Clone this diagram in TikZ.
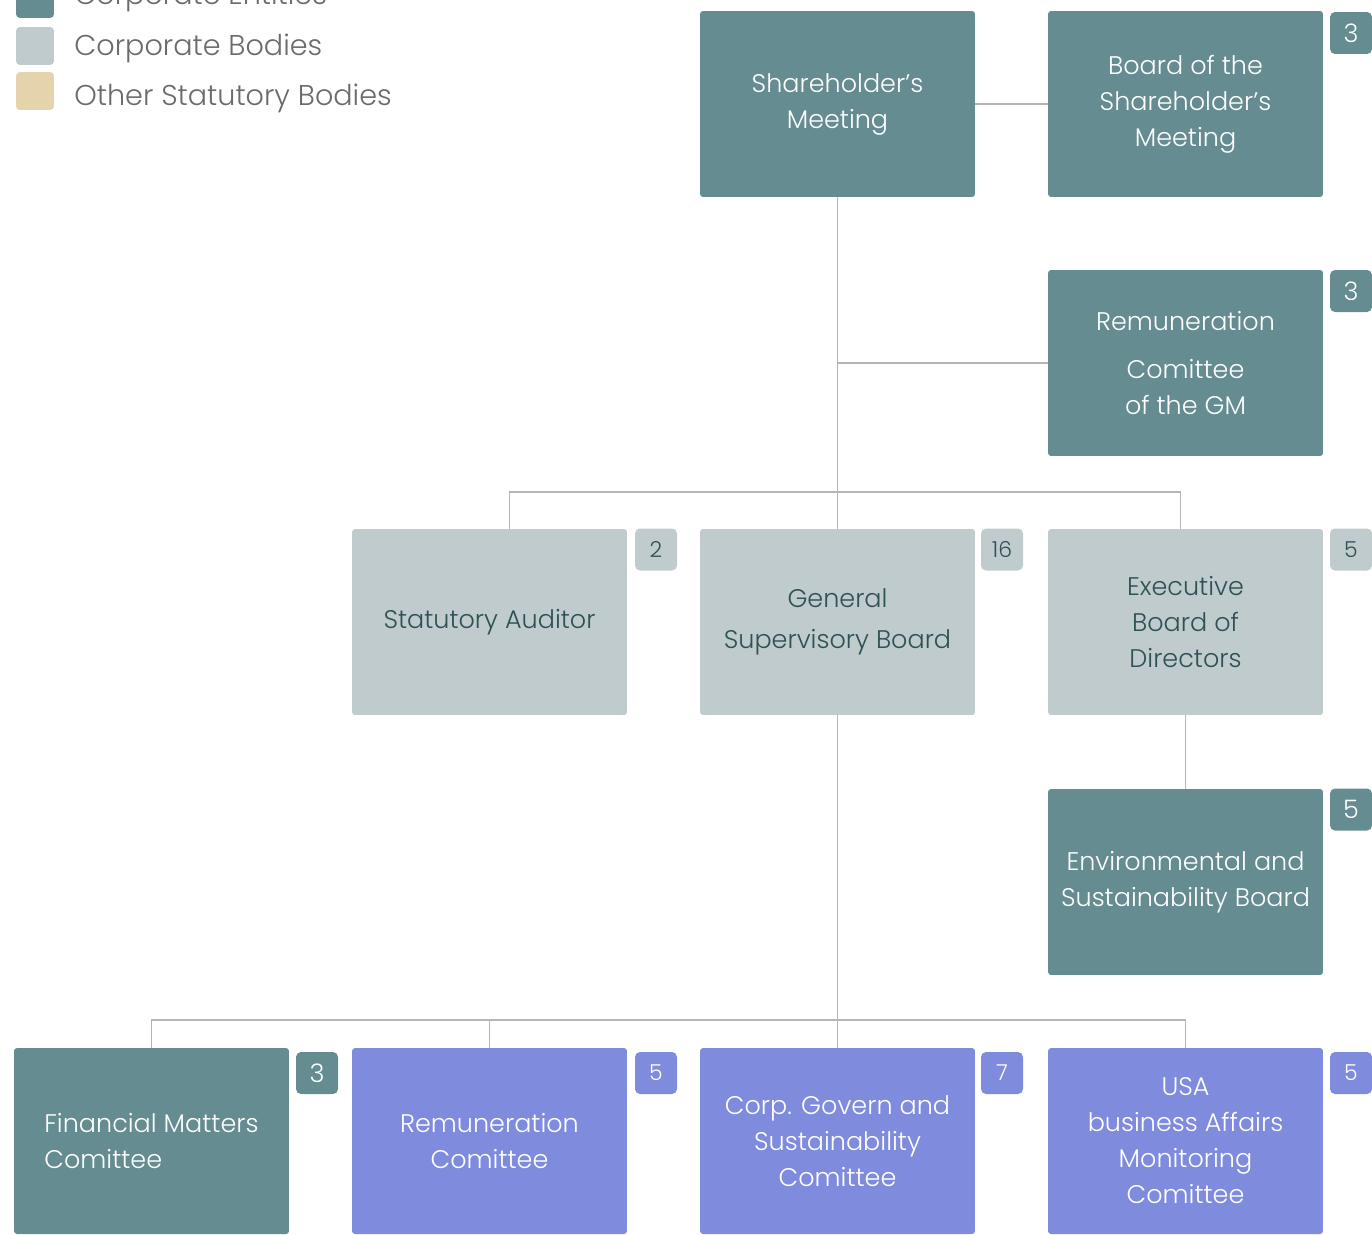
\documentclass[tikz,border=0pt]{standalone}
\usepackage{fontspec}
\setmainfont{Poppins Light}
\usetikzlibrary{positioning}
\definecolor{entity}{HTML}{648C91}
\definecolor{bodycol}{HTML}{BFCBCC}
\definecolor{othercol}{HTML}{E5D3AB}
\definecolor{commcol}{HTML}{7F8BDD}
\definecolor{linecol}{HTML}{B5B5B5}
\definecolor{darktext}{HTML}{2F5156}
\definecolor{legtextcol}{HTML}{6B6B6B}
\tikzstyle{box} = [rectangle, rounded corners=0.06cm, minimum width=5.5cm, minimum height=3.72cm, inner xsep=2pt, align=center, font=\fontsize{14.5}{20.5}\selectfont]
\tikzstyle{ent} = [box, fill=entity, text=white]
\tikzstyle{corp} = [box, fill=bodycol, text=darktext]
\tikzstyle{comm} = [box, fill=commcol, text=white]
\tikzstyle{badge} = [rectangle, rounded corners=0.1cm, minimum size=0.84cm, inner sep=0pt, font=\fontsize{12.5}{14}\selectfont]
\tikzstyle{legbox} = [rectangle, rounded corners=0.08cm, minimum size=0.76cm, inner sep=0pt]
\tikzstyle{legtext} = [anchor=west, inner sep=0pt, text=legtextcol, font=\fontsize{16.3}{20}\selectfont]
\tikzstyle{link} = [draw=linecol, line width=1.1pt]

\begin{document}
\begin{tikzpicture}[x=0.02cm, y=-0.02cm]
\useasboundingbox (0,0) rectangle (1372,1234);
\clip (0,0) rectangle (1372,1234);

% legend
\node [legbox, fill=entity] (leg1) at (35,-1) {};
\node [legtext] (legt1) at (74,-3) {Corporate Entities};
\node [legbox, fill=bodycol] (leg2) at (35,46) {};
\node [legtext] (legt2) at (74,48) {Corporate Bodies};
\node [legbox, fill=othercol] (leg3) at (35,91) {};
\node [legtext] (legt3) at (74,98) {Other Statutory Bodies};

% boxes
\node [ent] (sm) at (837.5,104) {Shareholder's\\Meeting};
\node [ent] (bsm) at (1185.5,104) {Board of the\\Shareholder's\\Meeting};
\node [ent] (rgm) at (1185.5,363) {Remuneration\\[0.25cm]Comittee\\of the GM};
\node [corp] (sa) at (489.5,622) {Statutory Auditor};
\node [corp] (gsb) at (837.5,622) {General\\[0.1cm]Supervisory Board};
\node [corp] (eb) at (1185.5,622) {Executive\\Board of\\Directors};
\node [ent] (es) at (1185.5,882) {Environmental and\\Sustainability Board};
\node [ent, align=left] (fm) at (151.5,1141) {Financial Matters\\Comittee};
\node [comm] (rc) at (489.5,1141) {Remuneration\\Comittee};
\node [comm] (cg) at (837.5,1141) {Corp. Govern and\\Sustainability\\Comittee};
\node [comm] (us) at (1185.5,1141) {USA\\business Affairs\\Monitoring\\Comittee};

% member counts
\node [badge, fill=entity, text=white, font=\fontsize{14.5}{16}\selectfont] (nbsm) at (1351,33) {3};
\node [badge, fill=entity, text=white, font=\fontsize{14.5}{16}\selectfont] (nrgm) at (1351,291) {3};
\node [badge, fill=bodycol, text=darktext] (nsa) at (656,549.5) {2};
\node [badge, fill=bodycol, text=darktext] (ngsb) at (1002,549.5) {16};
\node [badge, fill=bodycol, text=darktext] (neb) at (1351,549.5) {5};
\node [badge, fill=entity, text=white, font=\fontsize{14.5}{16}\selectfont] (nes) at (1351,809.5) {5};
\node [badge, fill=entity, text=white, font=\fontsize{14.5}{16}\selectfont] (nfm) at (317,1073) {3};
\node [badge, fill=commcol, text=white] (nrc) at (656,1073) {5};
\node [badge, fill=commcol, text=white] (ncg) at (1002,1073) {7};
\node [badge, fill=commcol, text=white] (nus) at (1351,1073) {5};

% junctions
\coordinate (j1) at (838,492);
\coordinate (j2) at (838,1020);

% connectors
\draw [link] (sm.east) -- (bsm.west);
\draw [link] (sm.south) -- (gsb.north);
\draw [link] (sm.south |- rgm.west) -- (rgm.west);
\draw [link] ([xshift=0.4cm]sa.north) |- (j1) -| ([xshift=-0.1cm]eb.north);
\draw [link] (eb.south) -- (es.north);
\draw [link] (gsb.south) -- (cg.north);
\draw [link] (fm.north) |- (j2) -| (us.north);
\draw [link] (rc.north) -- (rc.north |- j2);
\end{tikzpicture}
\end{document}
